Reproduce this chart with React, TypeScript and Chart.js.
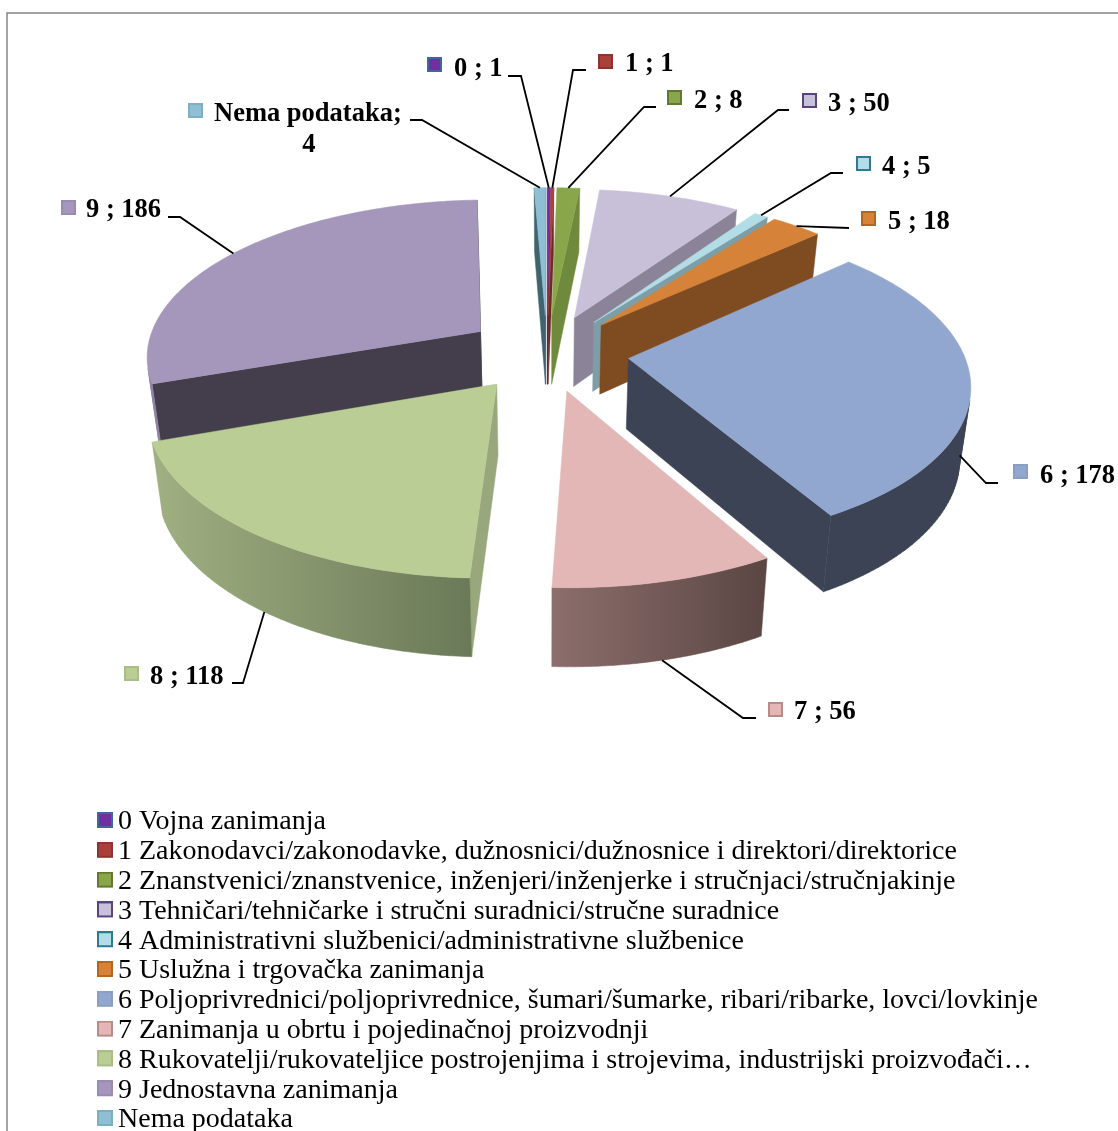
import React, { useEffect, useRef } from "react";
import { Chart, registerables } from "chart.js";

Chart.register(...registerables);

const categories = ["0", "1", "2", "3", "4", "5", "6", "7", "8", "9", "Nema podataka"];
const values = [1, 1, 8, 50, 5, 18, 178, 56, 118, 186, 4];
const legendNames = [
  "0 Vojna zanimanja",
  "1 Zakonodavci/zakonodavke, dužnosnici/dužnosnice i direktori/direktorice",
  "2 Znanstvenici/znanstvenice, inženjeri/inženjerke i stručnjaci/stručnjakinje",
  "3 Tehničari/tehničarke i stručni suradnici/stručne suradnice",
  "4 Administrativni službenici/administrativne službenice",
  "5 Uslužna i trgovačka zanimanja",
  "6 Poljoprivrednici/poljoprivrednice, šumari/šumarke, ribari/ribarke, lovci/lovkinje",
  "7 Zanimanja u obrtu i pojedinačnoj proizvodnji",
  "8 Rukovatelji/rukovateljice postrojenjima i strojevima, industrijski proizvođači…",
  "9 Jednostavna zanimanja",
  "Nema podataka",
];

const topColors = ["#7030a0", "#a8403c", "#8aa64a", "#c8bfd9", "#b2dde6", "#d68238", "#92a7cf", "#e3b7b6", "#b9cd94", "#a596bb", "#8ebfd3"];
const faceColors = ["#3f1f5c", "#6b2a28", "#6f8a3c", "#8b8398", "#7d9ea6", "#7f4c22", "#3c4355", "#5f4a48", "#98a87c", "#443e4c", "#3f6470"];
const wallLeft = ["#3f1f5c", "#6b2a28", "#6f8a3c", "#8b8398", "#7d9ea6", "#7f4c22", "#3c4355", "#8c6e6c", "#a0b082", "#8f82a4", "#3f6470"];
const wallRight = ["#3f1f5c", "#6b2a28", "#6f8a3c", "#8b8398", "#7d9ea6", "#7f4c22", "#3c4355", "#5a4643", "#6a7957", "#6f6584", "#3f6470"];
const keyBorders = ["#41689c", "#8f3330", "#5f7a30", "#5a4480", "#2f7a8c", "#b5651d", "#8a9fc0", "#b88a88", "#a9bd85", "#9a8bb0", "#7eaec2"];

// Layout of the outside labels: [marker x, marker y], [text x, baseline], elbow points, depth of the leader's anchor
const labelLayout = [
  { m: [427, 57], t: [454, 76], path: [[508, 76], [521, 76]], z: 0 },
  { m: [598, 54], t: [625, 71], path: [[586, 70], [573, 70]], z: 0 },
  { m: [667, 90], t: [694, 108], path: [[656, 107], [644, 107]], z: 0 },
  { m: [802, 93], t: [828, 111], path: [[789, 110], [778, 110]], z: 0 },
  { m: [856, 156], t: [882, 174], path: [[843, 173], [831, 173]], z: 0 },
  { m: [861, 211], t: [888, 229], path: [[849, 228]], z: 0 },
  { m: [1013, 464], t: [1040, 483], path: [[998, 483], [986, 483]], z: 1 },
  { m: [768, 702], t: [794, 719], path: [[756, 718], [743, 718]], z: 1 },
  { m: [124, 666], t: [150, 684], path: [[232, 683], [243, 683]], z: 1 },
  { m: [61, 200], t: [86, 217], path: [[168, 217], [180, 217]], z: 0 },
  { m: [188, 103], t: [214, 121], path: [[410, 120], [422, 120]], z: 0 },
];

const CX = 547, CY = 352.5, TILT = 0.466, PERSP = 0.00043, DEPTH = 72, SHRINK = 0.027;
const project = (X: number, Y: number, z: number) => {
  const w = (1 - PERSP * Y) * (1 + SHRINK * z);
  return [CX + X / w, CY + (TILT * Y + DEPTH * z) / w];
};

const poly = (ctx: any, pts: number[][]) => {
  pts.forEach((p, i) => (i ? ctx.lineTo(p[0], p[1]) : ctx.moveTo(p[0], p[1])));
  ctx.closePath();
};

const area = (pts: number[][]) => {
  let s = 0;
  pts.forEach((p, i) => {
    const q = pts[(i + 1) % pts.length];
    s += p[0] * q[1] - q[0] * p[1];
  });
  return s;
};

// Legend key image: its centre is where Chart.js anchors it, the visible square sits right of and above that.
const makeKey = (i: number) => {
  const c = document.createElement("canvas");
  c.width = 24;
  c.height = 20;
  const g = c.getContext("2d")!;
  g.fillStyle = keyBorders[i];
  g.fillRect(8, 0, 16, 16);
  g.fillStyle = topColors[i];
  g.fillRect(10, 2, 12, 12);
  return c;
};

const pie3d = {
  id: "pie3d",
  beforeDraw(chart: any) {
    const { ctx, width, height } = chart;
    ctx.save();
    ctx.fillStyle = "#ffffff";
    ctx.fillRect(0, 0, width, height);
    ctx.strokeStyle = "#868686";
    ctx.lineWidth = 1.5;
    ctx.beginPath();
    ctx.moveTo(7, height);
    ctx.lineTo(7, 13);
    ctx.lineTo(width, 13);
    ctx.stroke();
    ctx.restore();
  },
  afterLayout(chart: any) {
    const l = chart.legend;
    const pad = chart.options.plugins.legend.labels.padding;
    l.left = 98 - pad;
    l.right = 1100;
    l.top = 808 - pad;
    l.bottom = 2000;
  },
  beforeDatasetDraw(chart: any) {
    const { ctx } = chart;
    const arcs = chart.getDatasetMeta(0).data as any[];
    const order = arcs
      .map((a, i) => ({ a, i, mid: Math.sin((a.startAngle + a.endAngle) / 2) }))
      .sort((p, q) => p.mid - q.mid);
    ctx.save();
    for (const { a, i } of order) {
      const off = a.options.offset;
      const R = a.outerRadius;
      const m = (a.startAngle + a.endAngle) / 2;
      const ox = off * Math.cos(m), oy = off * Math.sin(m);
      const steps = Math.max(2, Math.ceil((a.endAngle - a.startAngle) / 0.02));
      const rim: number[][] = [];
      for (let s = 0; s <= steps; s++) {
        const t = a.startAngle + ((a.endAngle - a.startAngle) * s) / steps;
        rim.push([ox + R * Math.cos(t), oy + R * Math.sin(t)]);
      }
      const top = rim.map((p) => project(p[0], p[1], 0));
      const bot = rim.map((p) => project(p[0], p[1], 1));
      const apexT = project(ox, oy, 0), apexB = project(ox, oy, 1);
      ctx.lineWidth = 0.5;

      // radial faces, only those turned towards the viewer
      const startFace = [apexT, top[0], bot[0], apexB];
      const endFace = [apexT, top[steps], bot[steps], apexB];
      ctx.fillStyle = faceColors[i];
      ctx.strokeStyle = faceColors[i];
      if (area(startFace) < 0) {
        ctx.beginPath();
        poly(ctx, startFace);
        ctx.fill();
        ctx.stroke();
      }
      if (area(endFace) > 0) {
        ctx.beginPath();
        poly(ctx, endFace);
        ctx.fill();
        ctx.stroke();
      }

      // outer wall, segments turned towards the viewer
      const xs = top.concat(bot).map((p) => p[0]);
      const grad = ctx.createLinearGradient(Math.min(...xs), 0, Math.max(...xs), 0);
      grad.addColorStop(0, wallLeft[i]);
      grad.addColorStop(1, wallRight[i]);
      ctx.fillStyle = grad;
      ctx.strokeStyle = grad;
      ctx.beginPath();
      for (let s = 0; s < steps; s++) {
        const quad = [top[s], top[s + 1], bot[s + 1], bot[s]];
        if (area(quad) < 0) poly(ctx, quad);
      }
      ctx.fill();
      ctx.stroke();

      // top surface
      ctx.fillStyle = topColors[i];
      ctx.strokeStyle = topColors[i];
      ctx.beginPath();
      poly(ctx, [apexT, ...top]);
      ctx.fill();
      ctx.stroke();
    }
    ctx.restore();
    return false;
  },
  afterDatasetsDraw(chart: any) {
    const { ctx } = chart;
    const arcs = chart.getDatasetMeta(0).data as any[];
    ctx.save();
    arcs.forEach((a, i) => {
      const L = labelLayout[i];
      const off = a.options.offset, R = a.outerRadius;
      const m = (a.startAngle + a.endAngle) / 2;
      const anchor = project((off + R) * Math.cos(m), (off + R) * Math.sin(m), L.z);
      ctx.strokeStyle = "#000000";
      ctx.lineWidth = 1.8;
      ctx.beginPath();
      L.path.forEach((p, j) => (j ? ctx.lineTo(p[0], p[1]) : ctx.moveTo(p[0], p[1])));
      ctx.lineTo(anchor[0], anchor[1]);
      ctx.stroke();

      ctx.fillStyle = keyBorders[i];
      ctx.fillRect(L.m[0], L.m[1], 15, 15);
      ctx.fillStyle = topColors[i];
      ctx.fillRect(L.m[0] + 2, L.m[1] + 2, 11, 11);

      ctx.fillStyle = "#000000";
      ctx.font = "bold 26.5px 'Liberation Serif'";
      ctx.textBaseline = "alphabetic";
      ctx.textAlign = "left";
      if (categories[i].length > 1) {
        const first = categories[i] + ";";
        ctx.fillText(first, L.t[0], L.t[1]);
        const w = ctx.measureText(first).width;
        ctx.textAlign = "center";
        ctx.fillText(String(values[i]), L.t[0] + w / 2 + 1, L.t[1] + 31);
      } else {
        ctx.fillText(`${categories[i]} ; ${values[i]}`, L.t[0], L.t[1]);
      }
    });
    ctx.restore();
  },
};

export default function App() {
  const ref = useRef<HTMLCanvasElement>(null);
  useEffect(() => {
    const chart = new Chart(ref.current!, {
      type: "pie",
      data: {
        labels: legendNames,
        datasets: [{ data: values, backgroundColor: topColors, offset: 82, borderWidth: 0 }],
      },
      options: {
        animation: false,
        responsive: false,
        radius: 335,
        events: [],
        layout: { padding: 0 },
        plugins: {
          tooltip: { enabled: false },
          legend: {
            display: true,
            position: "left",
            align: "start",
            maxWidth: 200,
            labels: {
              font: { family: "'Liberation Serif'", size: 28, lineHeight: 1.1 },
              color: "#000000",
              usePointStyle: true,
              boxWidth: 6,
              boxHeight: 16,
              padding: 1.8,
              generateLabels: () =>
                legendNames.map((text, i) => ({
                  text,
                  index: i,
                  hidden: false,
                  fillStyle: topColors[i],
                  strokeStyle: keyBorders[i],
                  lineWidth: 0,
                  pointStyle: makeKey(i),
                  fontColor: "#000000",
                })),
            },
          },
        },
      } as any,
      plugins: [pie3d as any],
    });
    return () => chart.destroy();
  }, []);
  return (
    <canvas
      ref={ref}
      width={1118}
      height={1131}
      style={{ display: "block", position: "absolute", left: 0, top: 0 }}
    />
  );
}
